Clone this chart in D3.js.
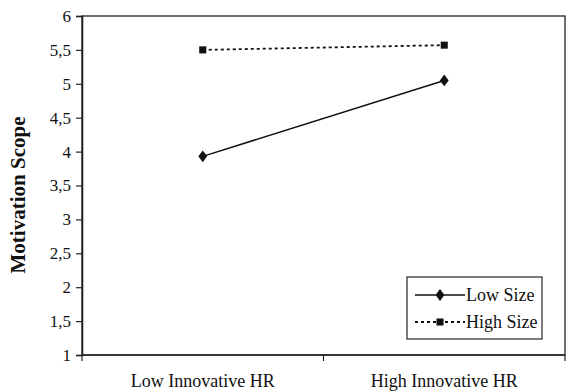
<!DOCTYPE html>
<html>
<head>
<meta charset="utf-8">
<script src="https://cdn.jsdelivr.net/npm/d3@7"></script>
<style>
  body { margin: 0; background: #fff; }
  svg text { font-family: "Liberation Serif", "DejaVu Serif", "Times New Roman", serif; fill: #111; }
</style>
</head>
<body>
<div id="chart"></div>
<script>
// data
var categories = ["Low Innovative HR", "High Innovative HR"];
var seriesNames = ["Low Size", "High Size"];
var lowSize = [3.93, 5.05];
var highSize = [5.5, 5.57];
var yTicks = [1, 1.5, 2, 2.5, 3, 3.5, 4, 4.5, 5, 5.5, 6];

var width = 567, height = 391;
var margin = {left: 82, right: 2, top: 16, bottom: 36};
var serif = "'Liberation Serif', 'DejaVu Serif', serif";

var svg = d3.select("#chart").append("svg")
    .attr("width", width)
    .attr("height", height);

var x = d3.scaleBand()
    .domain(categories)
    .range([margin.left, width - margin.right]);

var y = d3.scaleLinear()
    .domain([1, 6])
    .range([height - margin.bottom, margin.top]);

var fmt = function(d) { return String(d).replace(".", ","); };

// plot box
svg.append("rect")
    .attr("x", margin.left)
    .attr("y", margin.top)
    .attr("width", width - margin.right - margin.left)
    .attr("height", height - margin.bottom - margin.top)
    .attr("fill", "none")
    .attr("stroke", "#222")
    .attr("stroke-width", 1.3);

// y axis
var yAxis = svg.append("g")
    .attr("transform", "translate(" + margin.left + ",0)")
    .call(d3.axisLeft(y).tickValues(yTicks).tickFormat(fmt).tickSize(6).tickPadding(5));
yAxis.attr("font-family", serif).attr("font-size", 17);
yAxis.select(".domain").attr("stroke", "#222").attr("stroke-width", 1.6);
yAxis.selectAll(".tick line").attr("stroke", "#222").attr("stroke-width", 1.2);

// x axis: ticks at category boundaries
var xAxis = svg.append("g")
    .attr("transform", "translate(0," + y(1) + ")");
xAxis.append("line")
    .attr("x1", margin.left).attr("x2", width - margin.right)
    .attr("stroke", "#222").attr("stroke-width", 1.6);
var bounds = categories.map(function(c) { return x(c); }).concat([x(categories[1]) + x.bandwidth()]);
xAxis.selectAll(".xt").data(bounds).enter().append("line")
    .attr("x1", function(d) { return d; }).attr("x2", function(d) { return d; })
    .attr("y1", 0).attr("y2", 6)
    .attr("stroke", "#222").attr("stroke-width", 1.2);
xAxis.selectAll(".xl").data(categories).enter().append("text")
    .attr("x", function(d) { return x(d) + x.bandwidth() / 2; })
    .attr("y", 32)
    .attr("text-anchor", "middle")
    .style("font-size", "18px")
    .text(function(d) { return d; });

// axis title
svg.append("text")
    .attr("transform", "translate(25," + 195 + ") rotate(-90)")
    .attr("text-anchor", "middle")
    .style("font-size", "21px")
    .style("font-weight", "bold")
    .text("Motivation Scope");

var cx = function(i) { return x(categories[i]) + x.bandwidth() / 2; };
var line = d3.line()
    .x(function(d, i) { return cx(i); })
    .y(function(d) { return y(d); });

// High Size (dotted, squares)
svg.append("path")
    .datum(highSize)
    .attr("d", line)
    .attr("fill", "none")
    .attr("stroke", "#111")
    .attr("stroke-width", 1.8)
    .attr("stroke-dasharray", "3,3");
svg.selectAll(".sq").data(highSize).enter().append("path")
    .attr("d", d3.symbol().type(d3.symbolSquare).size(50))
    .attr("transform", function(d, i) { return "translate(" + cx(i) + "," + y(d) + ")"; })
    .attr("fill", "#111");

// Low Size (solid, diamonds)
svg.append("path")
    .datum(lowSize)
    .attr("d", line)
    .attr("fill", "none")
    .attr("stroke", "#111")
    .attr("stroke-width", 1.5);
svg.selectAll(".dm").data(lowSize).enter().append("path")
    .attr("d", d3.symbol().type(d3.symbolDiamond).size(40))
    .attr("transform", function(d, i) { return "translate(" + cx(i) + "," + y(d) + ") scale(1.3,1)"; })
    .attr("fill", "#111");

// legend
var legend = svg.append("g").attr("transform", "translate(407,277)");
legend.append("rect")
    .attr("width", 135).attr("height", 62)
    .attr("fill", "#fff").attr("stroke", "#222").attr("stroke-width", 1.2);
var rows = legend.selectAll(".row").data(seriesNames).enter().append("g")
    .attr("transform", function(d, i) { return "translate(0," + (18 + i * 27) + ")"; });
rows.append("line")
    .attr("x1", 8).attr("x2", 58)
    .attr("stroke", "#111")
    .attr("stroke-width", function(d, i) { return i ? 1.8 : 1.5; })
    .attr("stroke-dasharray", function(d, i) { return i ? "3,3" : null; });
rows.append("path")
    .attr("d", function(d, i) {
      return d3.symbol().type(i ? d3.symbolSquare : d3.symbolDiamond).size(i ? 50 : 40)();
    })
    .attr("transform", function(d, i) { return "translate(33,0)" + (i ? "" : " scale(1.3,1)"); })
    .attr("fill", "#111");
rows.append("text")
    .attr("x", 59)
    .attr("y", 6)
    .style("font-size", "18px")
    .text(function(d) { return d; });
</script>
</body>
</html>
